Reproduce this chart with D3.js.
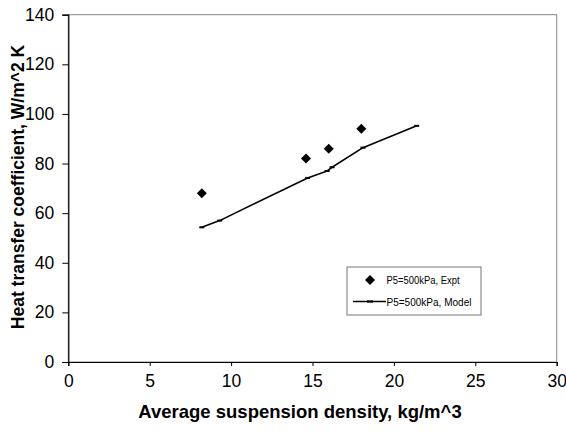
<!DOCTYPE html>
<html><head><meta charset="utf-8">
<script src="https://cdn.jsdelivr.net/npm/d3@7"></script>
<style>body{margin:0;background:#fff}svg{display:block}text{font-family:"Liberation Sans",Arial,sans-serif}</style>
</head><body><svg id="c" width="566" height="439"></svg>
<script>
const exptX = [8.2, 14.6, 16.0, 18.0];
const exptY = [68, 82, 86, 94];
const modelX = [8.2, 9.3, 14.7, 15.9, 16.2, 18.1, 21.4];
const modelY = [54.3, 57, 74.2, 77, 78.5, 86.4, 95.2];
const xTicks = [0, 5, 10, 15, 20, 25, 30];
const yTicks = [0, 20, 40, 60, 80, 100, 120, 140];
const legendLabels = ["P5=500kPa, Expt", "P5=500kPa, Model"];

const svg = d3.select("#c");
const L = 68.3, R = 556.7, T = 14.7, B = 362;
const x = d3.scaleLinear().domain([0, 30]).range([L, R]);
const y = d3.scaleLinear().domain([0, 140]).range([B, T]);

// frame
svg.append("rect").attr("x", L).attr("y", T).attr("width", R - L).attr("height", B - T)
  .attr("fill", "none").attr("stroke", "#888").attr("stroke-width", 1);

const xa = svg.append("g").attr("transform", `translate(0,${B})`)
  .call(d3.axisBottom(x).tickValues(xTicks).tickSize(4).tickPadding(9).tickFormat(d3.format("d")));
const ya = svg.append("g").attr("transform", `translate(${L},0)`)
  .call(d3.axisLeft(y).tickValues(yTicks).tickSize(6).tickPadding(8).tickFormat(d3.format("d")));
[xa, ya].forEach(a => {
  a.select(".domain").attr("stroke", "#000").attr("stroke-width", 1.2);
  a.selectAll(".tick line").attr("stroke", "#000");
  a.selectAll("text").attr("font-size", 17.5).attr("fill", "#000").style("font-family", '"Liberation Sans",Arial,sans-serif');
});

// model line
const pts = modelX.map((v, i) => [v, modelY[i]]);
svg.append("path").datum(pts)
  .attr("d", d3.line().x(d => x(d[0])).y(d => y(d[1])))
  .attr("fill", "none").attr("stroke", "#000").attr("stroke-width", 1.6).attr("stroke-linejoin", "round");
svg.selectAll(".mk").data(pts).enter().append("line")
  .attr("x1", d => x(d[0]) - 2.5).attr("x2", d => x(d[0]) + 2.5)
  .attr("y1", d => y(d[1])).attr("y2", d => y(d[1]))
  .attr("stroke", "#000").attr("stroke-width", 2);

// expt diamonds (rotated squares)
const sym = d3.symbol().type(d3.symbolSquare).size(50);
svg.selectAll(".ex").data(exptX.map((v, i) => [v, exptY[i]])).enter().append("path")
  .attr("d", sym).attr("transform", d => `translate(${x(d[0])},${y(d[1])}) rotate(45)`).attr("fill", "#000");

// legend
const lg = svg.append("g");
lg.append("rect").attr("x", 347).attr("y", 267).attr("width", 134).attr("height", 48)
  .attr("fill", "#fff").attr("stroke", "#777").attr("stroke-width", 1);
lg.append("path").attr("d", sym).attr("transform", "translate(370,280) rotate(45)").attr("fill", "#000");
lg.append("line").attr("x1", 353).attr("x2", 386).attr("y1", 301.5).attr("y2", 301.5).attr("stroke", "#000").attr("stroke-width", 1.4);
lg.append("line").attr("x1", 367).attr("x2", 373).attr("y1", 301.5).attr("y2", 301.5).attr("stroke", "#000").attr("stroke-width", 2.2);
lg.selectAll("text").data(legendLabels).enter().append("text")
  .attr("x", 386.5).attr("y", (d, i) => 284 + i * 21.5).attr("font-size", 10.5)
  .attr("transform", "").attr("fill", "#000")
  .attr("textLength", (d, i) => i === 0 ? 73 : 85).attr("lengthAdjust", "spacingAndGlyphs").text(d => d);

// titles
svg.append("text").attr("x", 300).attr("y", 418).attr("text-anchor", "middle")
  .attr("font-size", 18.5).attr("font-weight", "bold").text("Average suspension density, kg/m^3");
svg.append("text").attr("transform", "translate(24,187) rotate(-90)").attr("text-anchor", "middle")
  .attr("font-size", 17.5).attr("font-weight", "bold").text("Heat transfer coefficient, W/m^2 K");
</script></body></html>
